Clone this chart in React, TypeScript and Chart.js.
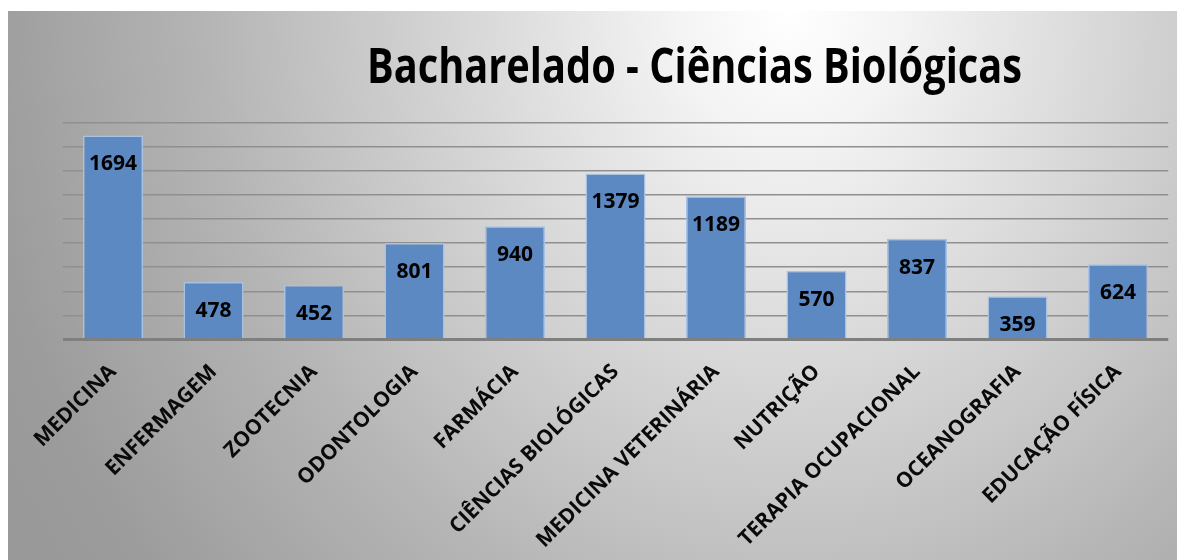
import React, { useEffect, useRef } from "react";
import { Chart, registerables } from "chart.js";

Chart.register(...registerables);

const categories = [
  "MEDICINA",
  "ENFERMAGEM",
  "ZOOTECNIA",
  "ODONTOLOGIA",
  "FARMÁCIA",
  "CIÊNCIAS BIOLÓGICAS",
  "MEDICINA VETERINÁRIA",
  "NUTRIÇÃO",
  "TERAPIA OCUPACIONAL",
  "OCEANOGRAFIA",
  "EDUCAÇÃO FÍSICA",
];
const values = [1694, 478, 452, 801, 940, 1379, 1189, 570, 837, 359, 624];
const chartTitle = "Bacharelado - Ciências Biológicas";
const yMin = 0;
const yMax = 1800;
const yStep = 200;

const FONT = "'Open Sans', Lato, sans-serif";

const overlayPlugin = {
  id: "overlay",
  afterDatasetsDraw(chart: any) {
    const ctx = chart.ctx as CanvasRenderingContext2D;
    const meta = chart.getDatasetMeta(0);
    ctx.save();
    ctx.fillStyle = "#000";
    ctx.font = `bold 21px ${FONT}`;
    ctx.textAlign = "center";
    ctx.textBaseline = "middle";
    meta.data.forEach((bar: any, i: number) => {
      ctx.fillText(String(values[i]), bar.x, bar.y + 29);
    });
    ctx.font = `bold 48px ${FONT}`;
    ctx.textBaseline = "alphabetic";
    const w = ctx.measureText(chartTitle).width;
    const s = Math.min(1, 655 / w);
    ctx.translate(686.5, 72);
    ctx.scale(s, 1);
    ctx.fillText(chartTitle, 0, 0);
    ctx.restore();
  },
};

export default function App() {
  const ref = useRef<HTMLCanvasElement | null>(null);

  useEffect(() => {
    if (!ref.current) return;
    const chart = new Chart(ref.current, {
      type: "bar",
      data: {
        labels: categories,
        datasets: [
          {
            data: values,
            backgroundColor: "#5c89c2",
            borderColor: "#a9c2e4",
            borderWidth: 1.5,
            barPercentage: 0.597,
            categoryPercentage: 1,
          },
        ],
      },
      options: {
        animation: false,
        responsive: false,
        maintainAspectRatio: false,
        layout: { padding: { top: 111.7, right: 8.75, left: 0, bottom: 0 } },
        plugins: {
          legend: { display: false },
          title: { display: false },
          tooltip: { enabled: false },
        },
        scales: {
          x: {
            grid: { display: false },
            border: { display: false },
            ticks: {
              color: "#0a0a0a",
              font: { family: FONT, size: 21, weight: "bold" },
              maxRotation: 45,
              minRotation: 45,
              padding: 12,
              autoSkip: false,
            },
            afterFit: (scale: any) => {
              scale.height = 220.5;
            },
          },
          y: {
            min: yMin,
            max: yMax,
            ticks: { stepSize: yStep, display: false },
            border: { display: false },
            grid: {
              drawTicks: false,
              color: (c: any) => (c.tick && c.tick.value === 0 ? "#7f7f7f" : "#8f8f8f"),
              lineWidth: (c: any) => (c.tick && c.tick.value === 0 ? 3 : 1.5),
            },
            afterFit: (scale: any) => {
              scale.width = 54.75;
            },
          },
        },
      },
      plugins: [overlayPlugin],
    });
    return () => chart.destroy();
  }, []);

  return (
    <div
      style={{
        position: "absolute",
        left: 8,
        top: 11,
        width: 1169,
        height: 549,
        background:
          "radial-gradient(ellipse 900px 1000px at 780px 0px, #ffffff 0%, #f4f4f4 12%, #d2d2d2 40%, #b4b4b4 65%, #9c9c9c 90%, #999999 100%)",
        overflow: "hidden",
      }}
    >
      <canvas ref={ref} width={1169} height={549} style={{ display: "block" }} />
    </div>
  );
}
